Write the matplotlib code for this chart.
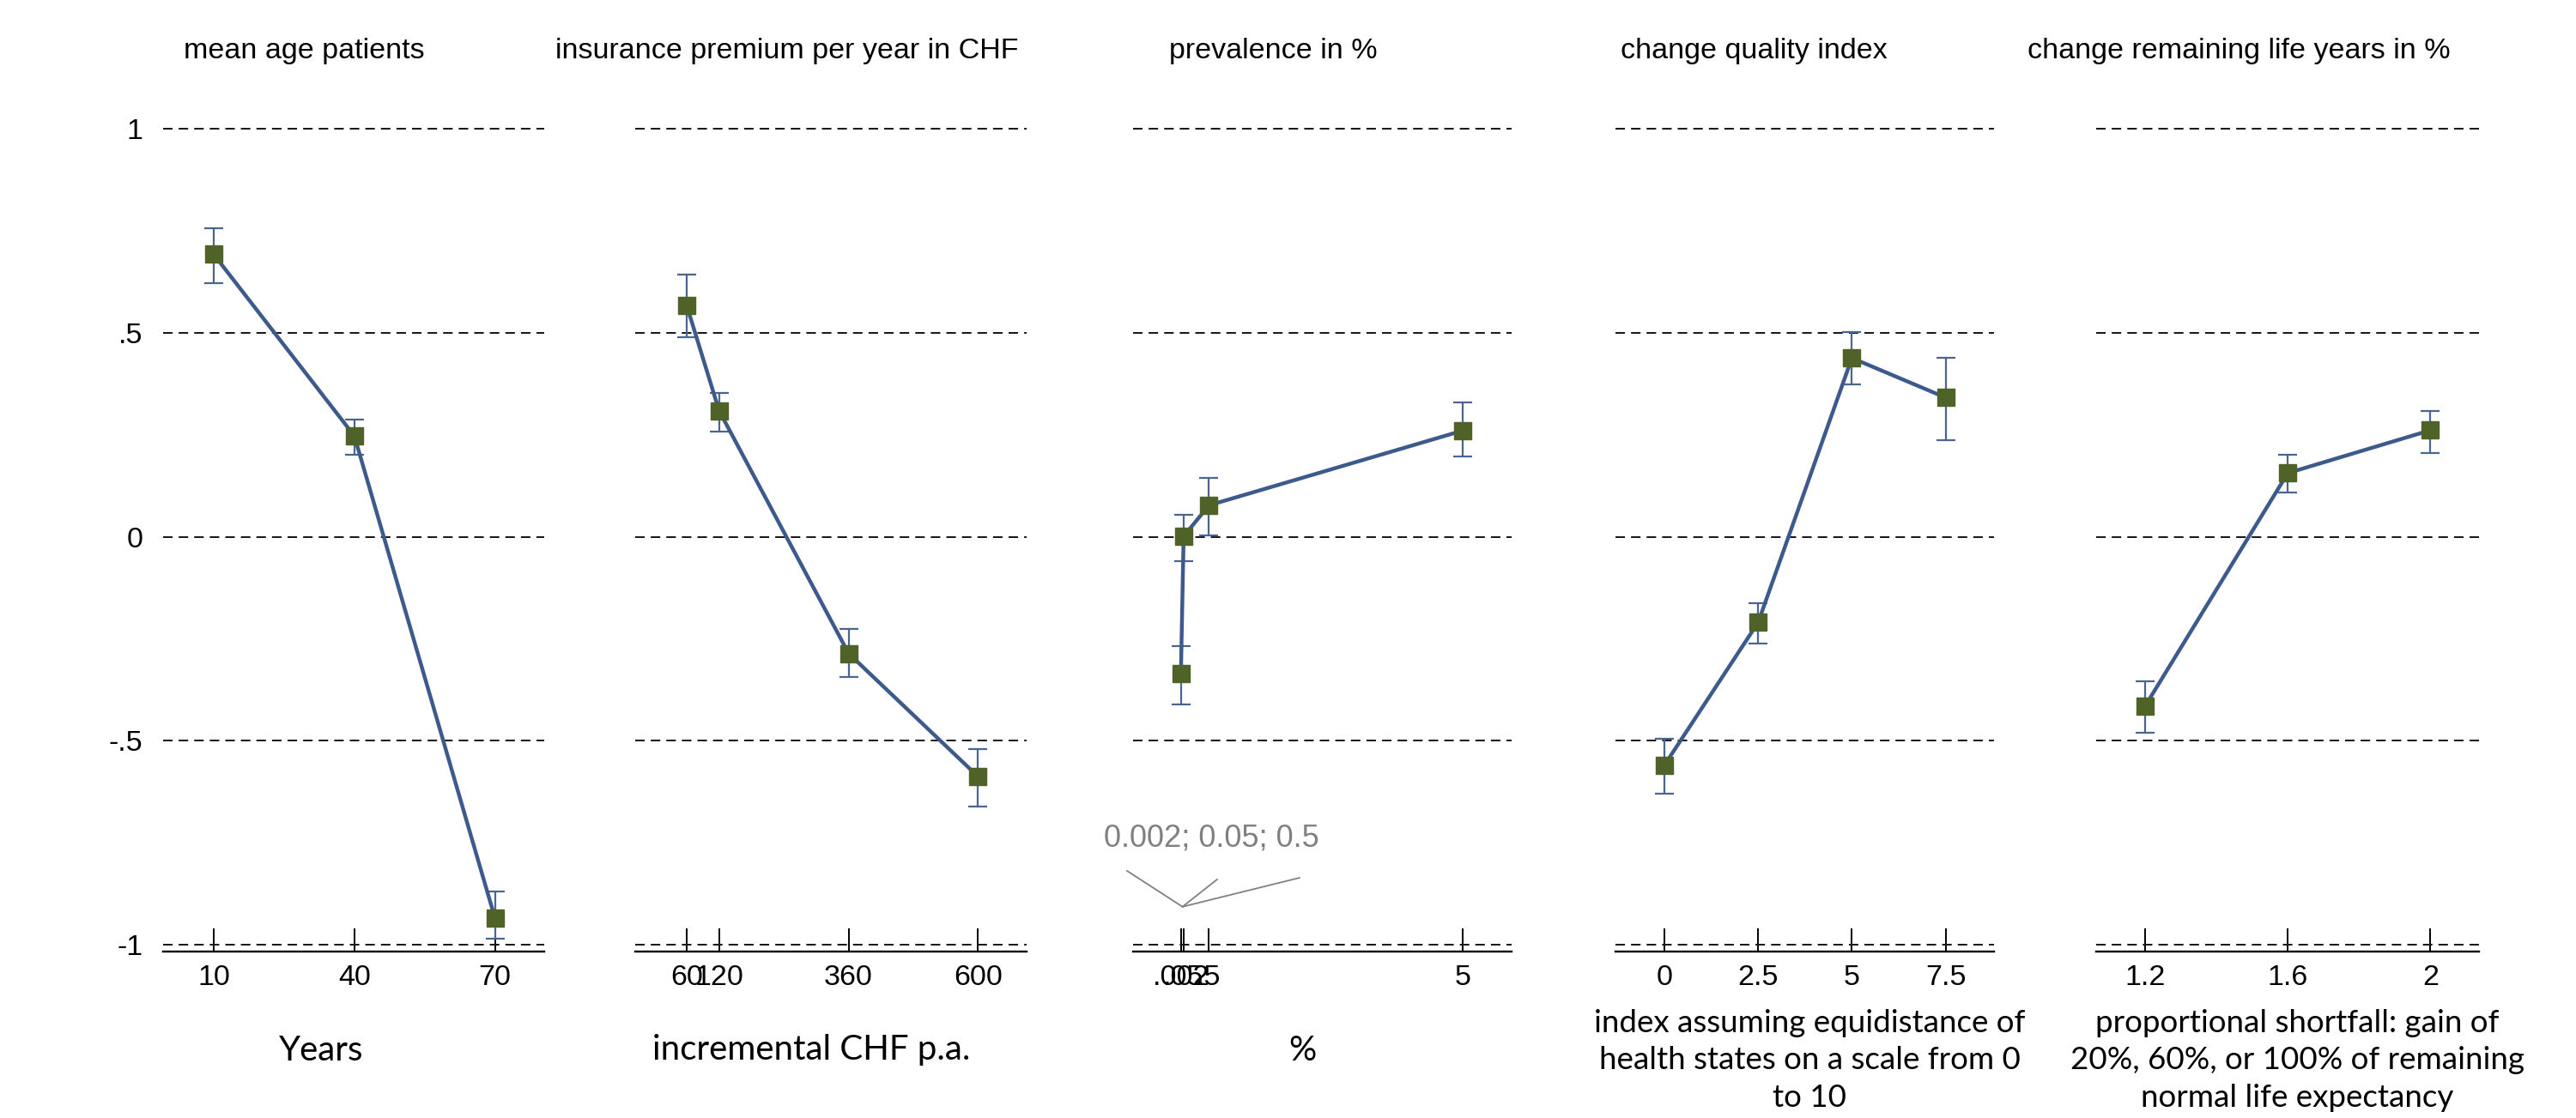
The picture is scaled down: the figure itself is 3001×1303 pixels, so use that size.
import matplotlib
matplotlib.use("Agg")
import matplotlib.pyplot as plt

# ---------------------------------------------------------------------------
# values (coefficient and 95% CI, per attribute level)
# ---------------------------------------------------------------------------
titles = ["mean age patients", "insurance premium per year in CHF", "prevalence in %",
          "change quality index", "change remaining life years in %"]
xlabels = ["Years", "incremental CHF p.a.", "%",
           "index assuming equidistance of\nhealth states on a scale from 0\nto 10",
           "proportional shortfall: gain of\n20%, 60%, or 100% of remaining\nnormal life expectancy"]

age_x = [10, 40, 70]
age_coef = [0.692, 0.247, -0.935]
age_lo = [0.621, 0.200, -0.985]
age_hi = [0.757, 0.287, -0.870]
age_ticks = ["10", "40", "70"]

prem_x = [60, 120, 360, 600]
prem_coef = [0.567, 0.309, -0.286, -0.588]
prem_lo = [0.490, 0.257, -0.343, -0.661]
prem_hi = [0.643, 0.353, -0.226, -0.520]
prem_ticks = ["60", "120", "360", "600"]

prev_x = [0.002, 0.05, 0.5, 5]
prev_coef = [-0.335, 0.001, 0.077, 0.260]
prev_lo = [-0.411, -0.060, 0.003, 0.197]
prev_hi = [-0.268, 0.054, 0.144, 0.329]
prev_ticks = [".002", ".05", ".5", "5"]

qual_x = [0, 2.5, 5, 7.5]
qual_coef = [-0.560, -0.210, 0.438, 0.341]
qual_lo = [-0.629, -0.262, 0.374, 0.237]
qual_hi = [-0.496, -0.162, 0.502, 0.438]
qual_ticks = ["0", "2.5", "5", "7.5"]

life_x = [1.2, 1.6, 2]
life_coef = [-0.415, 0.156, 0.261]
life_lo = [-0.480, 0.108, 0.205]
life_hi = [-0.355, 0.200, 0.309]
life_ticks = ["1.2", "1.6", "2"]

yticks = [-1, -0.5, 0, 0.5, 1]
ytick_labels = ["-1", "-.5", "0", ".5", "1"]

prev_note = "0.002; 0.05; 0.5"

panels = [
    (age_x, age_coef, age_lo, age_hi, age_ticks),
    (prem_x, prem_coef, prem_lo, prem_hi, prem_ticks),
    (prev_x, prev_coef, prev_lo, prev_hi, prev_ticks),
    (qual_x, qual_coef, qual_lo, qual_hi, qual_ticks),
    (life_x, life_coef, life_lo, life_hi, life_ticks),
]

# ---------------------------------------------------------------------------
# layout (pixels of the 3001x1303 canvas) and styling
# ---------------------------------------------------------------------------
W, H = 3001, 1303
ax_px = [(190, 634), (740, 1196), (1320, 1761), (1882, 2323), (2442, 2888)]
xlims = [(-0.8, 80.5), (-35.4, 689.9), (-0.847, 5.868), (-1.305, 8.79), (1.0627, 2.136)]
ax_top_px, ax_bot_px = 100, 1109
ylim = (-1.0168, 1.1052)
title_cx = [354, 917, 1483, 2043, 2608]
label_cx = [374, 945, 1517, 2108, 2676]

LINE = "#3d5a8c"
ERR = "#4a6592"
MARK = "#4f6228"
GRID = "#1a1a1a"
NOTE = "#808080"
ARIAL = ["Liberation Sans", "DejaVu Sans"]
CALIBRI = ["Lato", "DejaVu Sans"]

fig = plt.figure(figsize=(W / 100, H / 100), dpi=100)

for i, (x, coef, lo, hi, tlab) in enumerate(panels):
    x0, x1 = ax_px[i]
    ax = fig.add_axes([x0 / W, 1 - ax_bot_px / H, (x1 - x0) / W, (ax_bot_px - ax_top_px) / H])
    ax.set_xlim(*xlims[i])
    ax.set_ylim(*ylim)

    yerr = [[c - l for c, l in zip(coef, lo)], [h - c for c, h in zip(coef, hi)]]
    ax.errorbar(x, coef, yerr=yerr, fmt="none", ecolor=ERR, elinewidth=1.6,
                capsize=8, capthick=1.6, zorder=3)
    ax.plot(x, coef, color=LINE, lw=3.2, marker="s", ms=14.5, mfc=MARK, mec=MARK,
            mew=1, zorder=4)

    for s in ("top", "left", "right"):
        ax.spines[s].set_visible(False)
    ax.spines["bottom"].set_linewidth(1.7)
    ax.spines["bottom"].set_color("black")

    ax.set_xticks(x)
    ax.set_xticklabels(tlab, fontsize=24.5, family=ARIAL)
    ax.tick_params(axis="x", direction="in", length=19.5, width=1.4, pad=11, color="black")

    ax.set_yticks(yticks)
    ax.set_yticklabels(ytick_labels, fontsize=24.5, family=ARIAL)
    ax.tick_params(axis="y", length=0, pad=17, labelleft=(i == 0))
    ax.yaxis.grid(True, ls=(0, (5.5, 3.5)), lw=1.45, color=GRID)
    ax.set_axisbelow(True)

    # panel title (offset left of the axis centre, as in the original)
    fig.text(title_cx[i] / W, 1 - 68 / H, titles[i], ha="center", va="baseline",
             fontsize=24.5, family=ARIAL)
    # x-axis description underneath
    if "\n" in xlabels[i]:
        fig.text(label_cx[i] / W, 1 - 1236 / H, xlabels[i], ha="center", va="center",
                 fontsize=26.5, family=CALIBRI, linespacing=1.4)
    else:
        fig.text(label_cx[i] / W, 1 - 1224 / H, xlabels[i], ha="center", va="center",
                 fontsize=29, family=CALIBRI)

    if i == 2:
        # leader lines from the crowded ticks to the note
        apex = (0.03, -0.907)
        for ex, ey in [(-0.954, -0.819), (0.644, -0.840), (2.105, -0.836)]:
            ax.plot([apex[0], ex], [apex[1], ey], color=NOTE, lw=1.3, clip_on=False,
                    zorder=5)
        ax.text(0.538, -0.739, prev_note, ha="center", va="center", color=NOTE,
                fontsize=26, family=ARIAL)

fig.savefig("out.png", dpi=100)
